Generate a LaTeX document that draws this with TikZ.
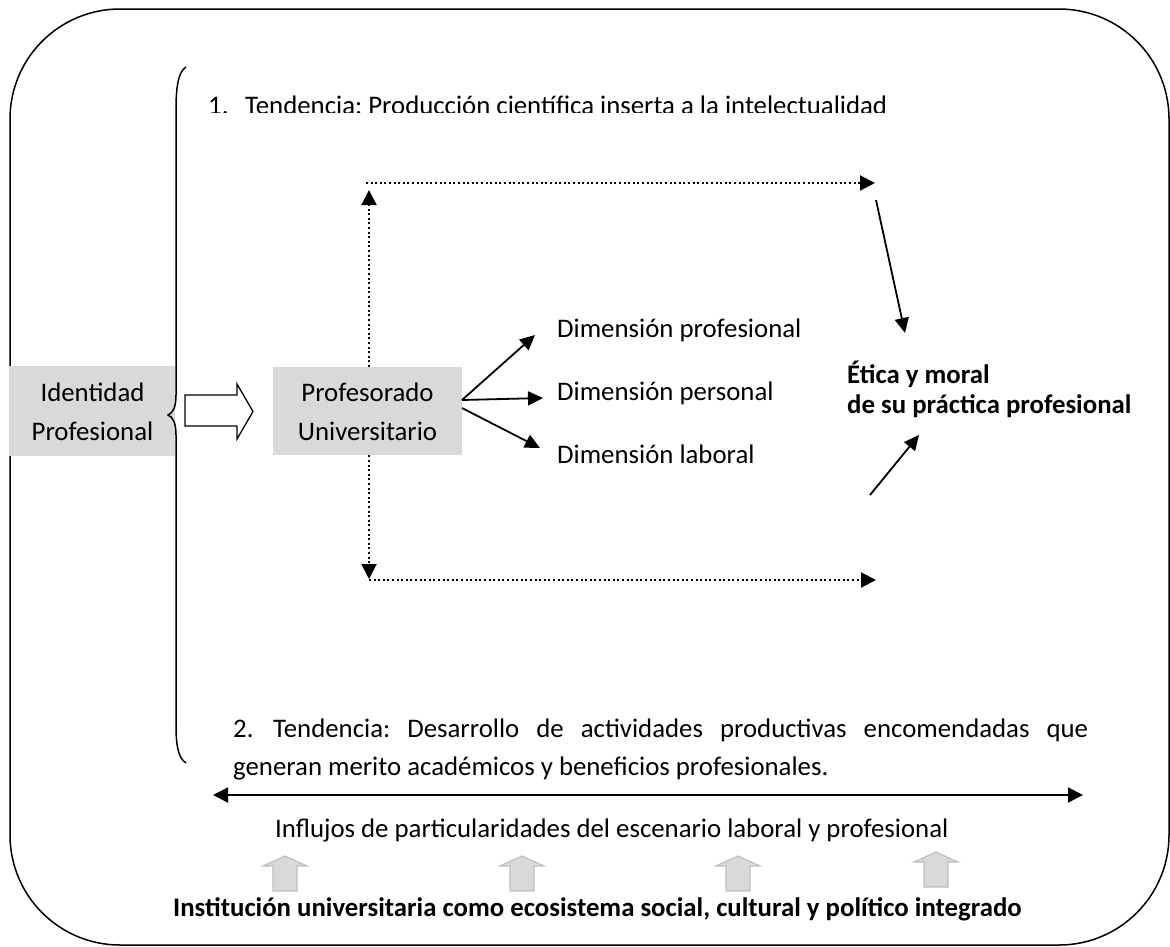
\documentclass[tikz,border=0pt]{standalone}
\usepackage{fontspec}
\setmainfont{Carlito}
\usetikzlibrary{arrows.meta}
\definecolor{boxgray}{HTML}{D9D9D9}
\definecolor{arrowedge}{HTML}{BFBFBF}
\frenchspacing
\begin{document}
\begin{tikzpicture}[x=1pt,y=-1pt,
  tx/.style={inner sep=0pt, font=\fontsize{26.8}{30}\selectfont},
  txb/.style={inner sep=0pt, font=\fontsize{26.8}{30}\selectfont\bfseries},
  graybox/.style={fill=boxgray, draw=none, inner sep=0pt, minimum width=166pt, minimum height=90pt, anchor=north west},
  solidarrow/.style={line width=1.8pt, -{Triangle[length=15pt,width=14pt]}},
  dotarrow/.style={line width=2pt, dash pattern=on 2pt off 2.6pt, -{Triangle[length=15pt,width=15pt]}},
  uparrow/.pic={\draw[fill=boxgray, draw=arrowedge, line width=1.2pt]
     (-12,35) -- (-12,10) -- (-22,10) -- (0,0) -- (22,10) -- (12,10) -- (12,35) -- cycle;}
]
\useasboundingbox (0,0) rectangle (1170,946);

% outer frame
\draw[line width=1.5pt, rounded corners=110pt] (10,9) rectangle (1169,945);

% first tendency (cut at its lower edge)
\begin{scope}
  \clip (0,0) rectangle (1170,112);
  \node[tx, anchor=base west] (t1n) at (208,114) {1.};
  \node[tx, anchor=base west] (t1) at (245,114) {Tendencia: Producción científica inserta a la intelectualidad};
\end{scope}

% grey boxes
\node[graybox] (idbox) at (9,366) {};
\node[tx, anchor=base] (id1) at (92.5,401) {Identidad};
\node[tx, anchor=base] (id2) at (92.5,440) {Profesional};

\node[graybox, minimum width=189pt, minimum height=88pt] (pubox) at (273,367) {};
\node[tx, anchor=base] (pu1) at (367.5,401) {Profesorado};
\node[tx, anchor=base] (pu2) at (367.5,440) {Universitario};

% brace
\draw[line width=1.5pt] (186,67) .. controls (178,72) and (176,88) .. (176,110)
  -- (176,395) .. controls (176,407) and (173,413) .. (168,415)
  .. controls (173,417) and (176,423) .. (176,435)
  -- (176,725) .. controls (176,745) and (178,758) .. (186,763);

% hollow block arrow
\draw[line width=1.3pt, fill=white] (185,395) -- (237,395) -- (237,384) -- (253,411.5)
  -- (237,439) -- (237,426) -- (185,426) -- cycle;

% dimensions
\node[tx, anchor=base west] (dim1) at (557,337) {Dimensión profesional};
\node[tx, anchor=base west] (dim2) at (557,400) {Dimensión personal};
\node[tx, anchor=base west] (dim3) at (557,463) {Dimensión laboral};
\coordinate (o1) at (462,400);
\coordinate (o2) at (462,408);
\coordinate (e1) at (535,335);
\coordinate (e2) at (543,398);
\coordinate (e3) at (540,448);
\draw[solidarrow] (o1) -- (e1);
\draw[solidarrow] (o1) -- (e2);
\draw[solidarrow] (o2) -- (e3);

% dotted loop
\coordinate (vt) at (369,190);
\coordinate (ht0) at (366,183);
\coordinate (ht) at (875,183);
\coordinate (vb) at (369,579);
\coordinate (hb0) at (369,580);
\coordinate (hb) at (876,580);
\draw[dotarrow] (pubox.north west -| vt) -- (vt);
\draw[dotarrow] (ht0) -- (ht);
\draw[dotarrow] (pubox.south west -| vb) -- (vb);
\draw[dotarrow] (hb0) -- (hb);

% ethics
\node[txb, anchor=base west] (et1) at (847,383) {Ética y moral};
\node[txb, anchor=base west] (et2) at (847,413) {de su práctica profesional};
\coordinate (a1s) at (876,200);
\coordinate (a1e) at (905,333);
\coordinate (a2s) at (870,495);
\coordinate (a2e) at (919,435);
\draw[solidarrow] (a1s) -- (a1e);
\draw[solidarrow] (a2s) -- (a2e);

% second tendency
\node[tx, anchor=base west] (t2n) at (233,737) {2.};
\node[tx, anchor=base west] (t2) at (273,737) {\makebox[815pt][s]{Tendencia: Desarrollo de actividades productivas encomendadas que}};
\node[tx, anchor=base west] (t2b) at (233,775) {generan merito académicos y beneficios profesionales.};

% influence axis
\coordinate (dl) at (213,795);
\coordinate (dr) at (1083,795);
\draw[line width=1.8pt, {Triangle[length=15pt,width=15pt]}-{Triangle[length=15pt,width=15pt]}] (dl) -- (dr);
\node[tx, anchor=base west] (infl) at (275,837) {Influjos de particularidades del escenario laboral y profesional};

% institution arrows
\pic at (285,856) {uparrow};
\pic at (522,856) {uparrow};
\pic at (738,856) {uparrow};
\pic at (936,852) {uparrow};
\node[txb, anchor=base west] (inst) at (173,916) {Institución universitaria como ecosistema social, cultural y político integrado};
\end{tikzpicture}
\end{document}
